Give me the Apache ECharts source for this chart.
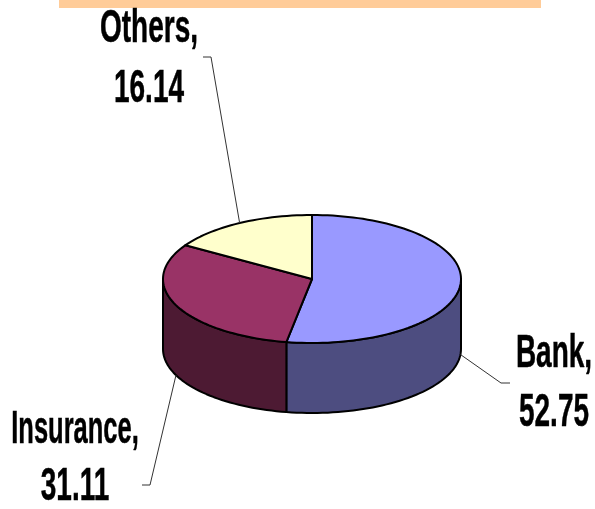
<!DOCTYPE html>
<html>
<head>
<meta charset="utf-8">
<title>Pie</title>
<style>
html,body{margin:0;padding:0;background:#fff;}
#chart{width:595px;height:509px;}
</style>
<script src="https://cdn.jsdelivr.net/npm/echarts@6/dist/echarts.min.js"></script>
</head>
<body>
<div id="chart"></div>
<script>
const categories = ['Bank', 'Insurance', 'Others'];
const values = [52.75, 31.11, 16.14];
const topColors = ['#9999FF', '#993366', '#FFFFCC'];
const sideColors = ['#4D4D80', '#4D1A33', '#808066'];

// label centre x, first line centre y, second line centre y
const labelPlaces = [[554, 354, 413], [75, 430, 487], [149, 29, 89]];
// first line is squeezed a little to fit its width
const labelFit = [1, 0.91, 1];
// elbow of the leader line and its short end
const leaderBends = [[[501, 383], [510, 383]], [[150, 485], [142, 485]], [[211, 57], [203, 57]]];

const cx = 312, cy = 279, rx = 149, ry = 64, depth = 70;
const total = values.reduce((a, b) => a + b, 0);

function pt(deg, dy){
	let r = deg * Math.PI / 180;
	return [cx + rx * Math.sin(r), cy - ry * Math.cos(r) + (dy || 0)];
}

function arc(from, to, dy){
	let out = [];
	let n = Math.max(2, Math.ceil((to - from) / 2));
	for(let i = 0; i <= n; i++){
		out.push(pt(from + (to - from) * i / n, dy));
	}
	return out;
}

function textEl(str, x, y, fit){
	return {
		type: 'text',
		x: x,
		y: y,
		scaleX: fit,
		scaleY: 1.65,
		z2: 5,
		style: {
			text: str,
			font: 'bold 28px "Liberation Sans Narrow", "Liberation Sans", sans-serif',
			fill: '#000',
			stroke: '#000',
			lineWidth: 0.3,
			align: 'center',
			verticalAlign: 'middle'
		}
	};
}

function renderSlice(params, api){
	let i = params.dataIndex;
	let before = 0;
	for(let k = 0; k < i; k++){ before += values[k]; }
	let a0 = before / total * 360;
	let a1 = (before + api.value(1)) / total * 360;
	let mid = (a0 + a1) / 2;
	let kids = [];

	// front wall, only the part between the left and right edge of the ellipse
	let w0 = Math.max(a0, 90), w1 = Math.min(a1, 270);
	if(w1 > w0){
		kids.push({
			type: 'polygon',
			z2: 1,
			shape: {points: arc(w0, w1, 0).concat(arc(w0, w1, depth).reverse())},
			style: {fill: sideColors[i], stroke: '#000', lineWidth: 2, lineJoin: 'round'}
		});
	}
	kids.push({
		type: 'polygon',
		z2: 2,
		shape: {points: [[cx, cy]].concat(arc(a0, a1, 0))},
		style: {fill: topColors[i], stroke: '#000', lineWidth: 2, lineJoin: 'round'}
	});

	// leader line from the middle of the slice
	let start = pt(mid, (mid > 90 && mid < 270) ? depth : 0);
	kids.push({
		type: 'polyline',
		z2: 3,
		shape: {points: [start].concat(leaderBends[i])},
		style: {fill: null, stroke: '#333', lineWidth: 1}
	});

	let place = labelPlaces[i];
	kids.push(textEl(categories[i] + ',', place[0], place[1], labelFit[i]));
	kids.push(textEl(String(api.value(1)), place[0], place[2], 1));
	return {type: 'group', children: kids};
}

let chart = echarts.init(document.getElementById('chart'));
chart.setOption({
	animation: false,
	backgroundColor: '#fff',
	graphic: [{
		type: 'rect',
		shape: {x: 59, y: 0, width: 482, height: 8},
		style: {fill: '#FFCC99'}
	}],
	series: [{
		type: 'custom',
		coordinateSystem: 'none',
		renderItem: renderSlice,
		data: values.map((v, i) => [i, v])
	}]
});
</script>
</body>
</html>
